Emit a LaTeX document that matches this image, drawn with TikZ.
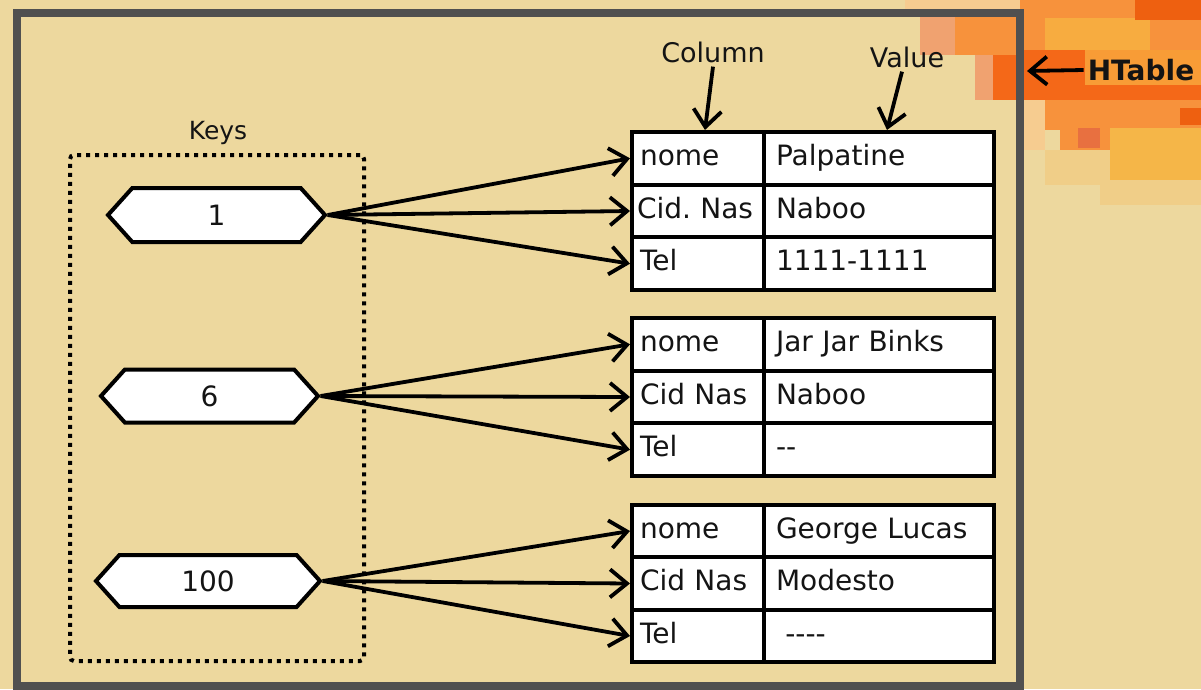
\documentclass[tikz,border=0pt]{standalone}
\usepackage{fontspec}
\setmainfont{DejaVu Sans}
\usetikzlibrary{arrows.meta,shapes.symbols}

\definecolor{paper}{RGB}{237,216,158}
\definecolor{ink}{RGB}{20,20,20}
\definecolor{framegray}{RGB}{80,80,80}
\definecolor{oDeep}{RGB}{244,104,24}
\definecolor{oRed}{RGB}{238,96,16}
\definecolor{oMid}{RGB}{247,146,60}
\definecolor{oGold}{RGB}{248,156,54}
\definecolor{oYel}{RGB}{247,172,64}
\definecolor{oSun}{RGB}{245,182,72}
\definecolor{oPeach}{RGB}{240,162,112}
\definecolor{oSpot}{RGB}{232,112,64}
\definecolor{oPale}{RGB}{246,204,144}
\definecolor{oLight}{RGB}{240,206,136}

\begin{document}
\begin{tikzpicture}[x=1pt,y=-1pt,
  every node/.style={font=\fontsize{28}{34}\selectfont, text=ink},
  keyshape/.style={signal, signal to=west and east, signal pointer angle=96,
    draw=black, line width=4pt, fill=white, minimum height=54pt, inner sep=0pt},
  cellL/.style={draw=black, line width=4pt, fill=white, minimum width=132pt,
    minimum height=52.7pt, text width=116pt, inner xsep=8pt, inner ysep=0pt,
    align=left, text height=21pt, text depth=7pt},
  cellR/.style={cellL, minimum width=230pt, text width=206pt, inner xsep=12pt},
  arr/.style={draw=black, line width=3.8pt,
    -{Straight Barb[length=17pt,width=28pt,line width=3.8pt]}},
  keysbox/.style={draw=black, line width=4pt, dash pattern=on 4pt off 5pt,
    rounded corners=4pt, minimum width=294pt, minimum height=506pt, inner sep=0pt},
  label/.style={font=\fontsize{27}{32}\selectfont, inner sep=4pt}
]
% background
\fill[paper] (0,0) rectangle (1201,689);
\useasboundingbox (0,0) rectangle (1201,689);

% orange patch in the upper right corner
\fill[oPale] (905,0) rectangle (1020,15);
\fill[oPeach] (920,15) rectangle (960,55);
\fill[oMid] (955,12) rectangle (1020,55);
\fill[oPeach] (975,55) rectangle (995,100);
\fill[oDeep] (993,55) rectangle (1020,100);
\fill[oMid] (1020,0) rectangle (1201,130);
\fill[oYel] (1045,18) rectangle (1150,55);
\fill[oRed] (1135,0) rectangle (1201,20);
\fill[oGold] (1085,50) rectangle (1201,88);
\fill[oDeep] (1020,50) rectangle (1085,100);
\fill[oDeep] (1085,85) rectangle (1201,100);
\fill[oRed] (1180,108) rectangle (1201,125);
\fill[oPale] (1020,100) rectangle (1045,150);
\fill[oMid] (1060,128) rectangle (1110,150);
\fill[oSpot] (1078,128) rectangle (1100,148);
\fill[oSun] (1110,128) rectangle (1201,182);
\fill[oLight] (1045,150) rectangle (1110,185);
\fill[oLight] (1100,180) rectangle (1201,205);

% outer frame
\node[draw=framegray, line width=8pt, minimum width=1003pt, minimum height=673pt,
  inner sep=0pt] (frame) at (518.5,349.5) {};

% HTable label
\node[font=\fontsize{28}{34}\selectfont\bfseries, inner sep=4pt] (ht) at (1141,70) {HTable};
\coordinate (frameR) at (1027,71);
\draw[arr] (ht.west) -- (frameR);

% keys
\node[keysbox] (keys) at (217,408) {};
\node[font=\fontsize{25}{30}\selectfont] (keyslbl) at (218,133) {Keys};
\node[keyshape, minimum width=217pt] (k1) at (216.5,215) {1};
\node[keyshape, minimum width=217pt, minimum height=53pt] (k2) at (209.5,396) {6};
\node[keyshape, minimum width=224pt, minimum height=52pt] (k3) at (208,581) {100};

% row 1
\node[cellL] (a1) at (698,158.3) {nome};
\node[cellR] (a1v) at (879,158.3) {Palpatine};
\node[cellL] (a2) at (698,211) {\hspace*{-3pt}\mbox{Cid.\ Nas}};
\node[cellR] (a2v) at (879,211) {Naboo};
\node[cellL] (a3) at (698,263.7) {Tel};
\node[cellR] (a3v) at (879,263.7) {1111-1111};

% row 6
\node[cellL] (b1) at (698,344.3) {nome};
\node[cellR] (b1v) at (879,344.3) {Jar Jar Binks};
\node[cellL] (b2) at (698,397) {Cid Nas};
\node[cellR] (b2v) at (879,397) {Naboo};
\node[cellL] (b3) at (698,449.7) {Tel};
\node[cellR] (b3v) at (879,449.7) {{-}{-}};

% row 100
\node[cellL] (c1) at (698,531) {nome};
\node[cellR] (c1v) at (879,531) {George Lucas};
\node[cellL] (c2) at (698,583.5) {Cid Nas};
\node[cellR] (c2v) at (879,583.5) {Modesto};
\node[cellL] (c3) at (698,636) {Tel};
\node[cellR] (c3v) at (879,636) {\ {-}{-}{-}{-}};

% column / value captions
\node[label] (colL) at (713,52) {Column};
\node[label] (valL) at (907,57) {Value};
\draw[arr] (colL.south) -- ([xshift=7pt]a1.north);
\draw[arr] ([xshift=-5pt]valL.south) -- ([xshift=8pt]a1v.north);

% key -> column links
\foreach \k/\r in {k1/a, k2/b, k3/c}{
  \draw[arr] (\k.east) -- (\r1.west);
  \draw[arr] (\k.east) -- (\r2.west);
  \draw[arr] (\k.east) -- (\r3.west);
}
\end{tikzpicture}
\end{document}
